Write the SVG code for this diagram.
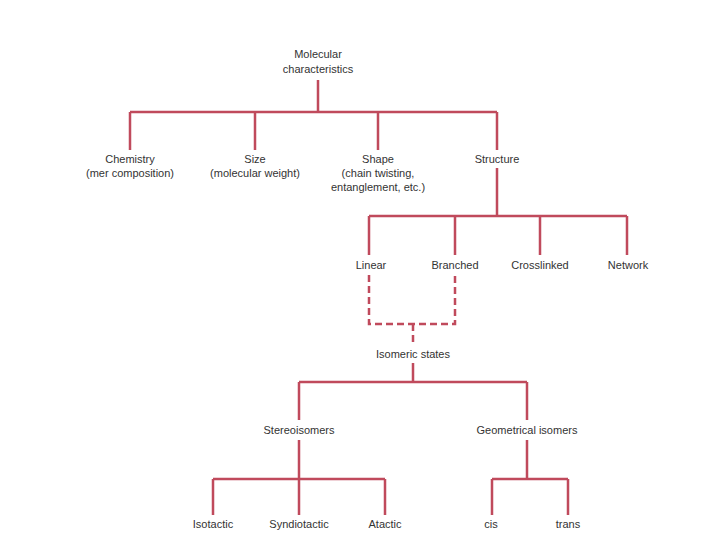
<svg xmlns="http://www.w3.org/2000/svg" width="720" height="540" viewBox="0 0 720 540">
<style>
text{font-family:"Liberation Sans",Arial,sans-serif;font-size:11px;fill:#333;text-anchor:middle}
.c{stroke:#c04a5c;stroke-width:2.5;fill:none}
.d{stroke:#c04a5c;stroke-width:2.5;fill:none;stroke-dasharray:7,4}
</style>
<rect width="720" height="540" fill="#fff"/>
<g id="connectors">
<path class="c" d="M318 80V112M130 112H497M130 112V150M255 112V150M378 112V150M497 112V150"/>
<path class="c" d="M497 168V216M369 216H627M369 216V255M455 216V255M540 216V255M627 216V255"/>
<path class="d" d="M369 275V324H455V275M413 324V346"/>
<path class="c" d="M413 363V382M299 382H527M299 382V420M527 382V420"/>
<path class="c" d="M299 440V479M213 479H385M213 479V515M299 479V515M385 479V515"/>
<path class="c" d="M527 440V479M492 479H568M492 479V515M568 479V515"/>
</g>
<g id="molecular"><text x="318" y="58">Molecular</text><text x="318" y="73">characteristics</text></g>
<g id="chemistry"><text x="130" y="163">Chemistry</text><text x="130" y="177">(mer composition)</text></g>
<g id="size"><text x="255" y="163">Size</text><text x="255" y="177">(molecular weight)</text></g>
<g id="shape"><text x="378" y="163">Shape</text><text x="378" y="177">(chain twisting,</text><text x="378" y="191">entanglement, etc.)</text></g>
<g id="structure"><text x="497" y="163">Structure</text></g>
<g id="linear"><text x="371" y="269">Linear</text></g>
<g id="branched"><text x="455" y="269">Branched</text></g>
<g id="crosslinked"><text x="540" y="269">Crosslinked</text></g>
<g id="network"><text x="628" y="269">Network</text></g>
<g id="isomeric"><text x="413" y="358">Isomeric states</text></g>
<g id="stereo"><text x="299" y="434">Stereoisomers</text></g>
<g id="geometrical"><text x="527" y="434">Geometrical isomers</text></g>
<g id="isotactic"><text x="213" y="528">Isotactic</text></g>
<g id="syndiotactic"><text x="299" y="528">Syndiotactic</text></g>
<g id="atactic"><text x="385" y="528">Atactic</text></g>
<g id="cis"><text x="491" y="528">cis</text></g>
<g id="trans"><text x="568" y="528">trans</text></g>
</svg>
